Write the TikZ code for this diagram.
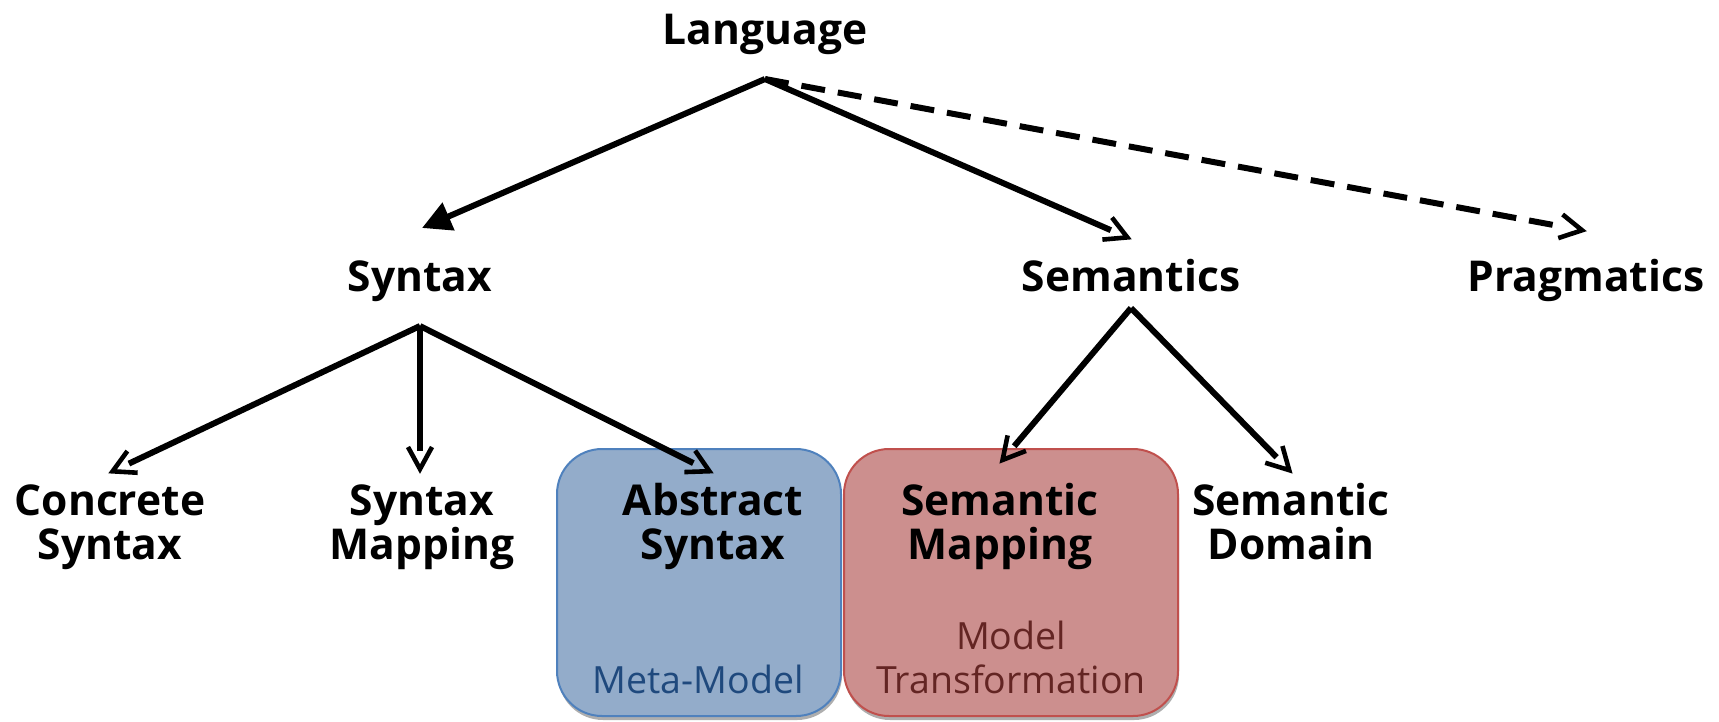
\documentclass[tikz,border=0pt]{standalone}
\usepackage{fontspec}
\setmainfont{Open Sans}
\usetikzlibrary{arrows.meta,shadows}
\definecolor{boxblue}{HTML}{93ACCA}
\definecolor{edgeblue}{HTML}{4F81BD}
\definecolor{boxred}{HTML}{CC8F8E}
\definecolor{edgered}{HTML}{C0504D}
\definecolor{txtblue}{HTML}{1F497D}
\definecolor{txtred}{HTML}{632523}
% open barb whose shaft stops at the back of the barb
\pgfdeclarearrow{
  name = GapBarb,
  parameters = {\the\pgfarrowlength,\the\pgfarrowwidth},
  setup code = {
    \pgfarrowssettipend{0pt}
    \pgfarrowssetlineend{-\pgfarrowlength}
    \pgfarrowssetbackend{-\pgfarrowlength}
    \pgfarrowshullpoint{0pt}{0pt}
    \pgfarrowshullpoint{-\pgfarrowlength}{.5\pgfarrowwidth}
    \pgfarrowshullpoint{-\pgfarrowlength}{-.5\pgfarrowwidth}
    \pgfarrowssavethe\pgfarrowlength
    \pgfarrowssavethe\pgfarrowwidth
  },
  drawing code = {
    \pgfsetdash{}{0pt}
    \pgfsetlinewidth{4.6pt}
    \pgfsetmiterjoin
    \pgfsetbuttcap
    \pgfpathmoveto{\pgfpoint{-\pgfarrowlength-4pt}{.5\pgfarrowwidth}}
    \pgfpathlineto{\pgfpoint{-4pt}{0pt}}
    \pgfpathlineto{\pgfpoint{-\pgfarrowlength-4pt}{-.5\pgfarrowwidth}}
    \pgfusepathqstroke
  },
  defaults = {length=22pt, width=24pt}
}
\begin{document}
\begin{tikzpicture}[x=1pt,y=-1pt,
  lbl/.style={font=\fontsize{42.5}{44}\selectfont\bfseries, align=center, inner sep=0pt, anchor=base},
  sublbl/.style={font=\fontsize{37.5}{44}\selectfont, align=center, inner sep=0pt, anchor=base},
  conn/.style={line width=6pt},
  openhead/.style={-{GapBarb[length=22pt,width=24pt]}},
  filledhead/.style={-{Triangle[length=29pt,width=29pt]}},
  roundbox/.style={rounded corners=45pt, line width=2pt, inner sep=0pt,
    drop shadow={shadow xshift=1pt, shadow yshift=-4pt, fill=black!45, opacity=0.7}},
]
\useasboundingbox (0,0) rectangle (1719,721);

% boxes
\node (metabox) [roundbox, draw=edgeblue, fill=boxblue, minimum width=284pt, minimum height=267pt] at (699,582.5) {};
\node (transbox) [roundbox, draw=edgered, fill=boxred, minimum width=334pt, minimum height=267pt] at (1011,582.5) {};

% labels
\node (language) [lbl] at (765,44) {Language};
\node (syntax) [lbl] at (420,291) {Syntax};
\node (semantics) [lbl] at (1131,291) {Semantics};
\node (pragmatics) [lbl] at (1586,291) {Pragmatics};
\node (concrete) [lbl] at (110,559) {Concrete\\Syntax};
\node (synmap) [lbl] at (422,559) {Syntax\\Mapping};
\node (abstract) [lbl] at (713,559) {Abstract\\Syntax};
\node (semmap) [lbl] at (1000,559) {Semantic\\Mapping};
\node (semdom) [lbl] at (1291,559) {Semantic\\Domain};
\node (metamodel) [sublbl, text=txtblue] at (698,693) {Meta-Model};
\node (modeltrans) [sublbl, text=txtred] at (1011,693) {Model\\Transformation};

% connector points
\coordinate (langapex) at (765,79);
\coordinate (syntip) at (422,228);
\coordinate (semtip) at (1131,239);
\coordinate (pragtip) at (1586,231);
\coordinate (synapex) at (420,326);
\coordinate (conctip) at (109,473);
\coordinate (synmaptip) at (420,473);
\coordinate (abstip) at (713,473);
\coordinate (semapex) at (1131,308);
\coordinate (semmaptip) at (1000,463);
\coordinate (semdomtip) at (1292,473);

% connectors
\draw[conn, filledhead] (langapex) -- (syntip);
\draw[conn, openhead] (langapex) -- (semtip);
\draw[conn, openhead, dash pattern=on 24pt off 13pt] (langapex) -- (pragtip);
\draw[conn, openhead] (synapex) -- (conctip);
\draw[conn, openhead] (synapex) -- (synmaptip);
\draw[conn, openhead] (synapex) -- (abstip);
\draw[conn, openhead] (semapex) -- (semmaptip);
\draw[conn, openhead] (semapex) -- (semdomtip);
\end{tikzpicture}
\end{document}
